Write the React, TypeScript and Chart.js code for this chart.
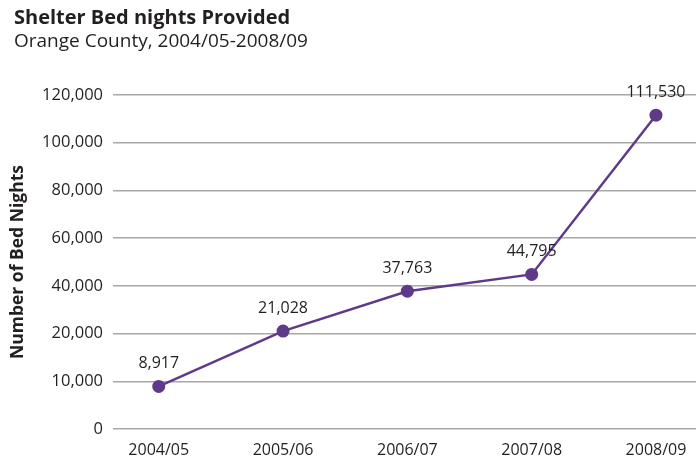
import React, { useEffect, useRef } from 'react';
import { Chart, LinearScale, registerables } from 'chart.js';

const categories = ['2004/05', '2005/06', '2006/07', '2007/08', '2008/09'];
const bedNights = [8917, 21028, 37763, 44795, 111530];
const yTickValues = [0, 10000, 20000, 40000, 60000, 80000, 100000, 120000];
const titleText = 'Shelter Bed nights Provided';
const subtitleText = 'Orange County, 2004/05-2008/09';
const yAxisTitle = 'Number of Bed Nights';

const TEXT = '#231f20';
const PURPLE = '#5f3a88';
const FONT = '"Open Sans", "Noto Sans", sans-serif';

// Y scale whose ticks are evenly spaced although their values are not
class SegmentScale extends LinearScale {
  static id = 'segment';
  static defaults = { ...(LinearScale as any).defaults };
  buildTicks() {
    return yTickValues.map((v) => ({ value: v }));
  }
  toDecimal(value: number) {
    const n = yTickValues.length - 1;
    let i = 0;
    while (i < n - 1 && value > yTickValues[i + 1]) i++;
    const frac = (value - yTickValues[i]) / (yTickValues[i + 1] - yTickValues[i]);
    return (i + frac) / n;
  }
  getPixelForValue(value: number) {
    return (this as any).getPixelForDecimal(this.toDecimal(value));
  }
  getValueForPixel(pixel: number) {
    const n = yTickValues.length - 1;
    const d = (this as any).getDecimalForPixel(pixel) * n;
    const i = Math.max(0, Math.min(n - 1, Math.floor(d)));
    return yTickValues[i] + (d - i) * (yTickValues[i + 1] - yTickValues[i]);
  }
}

Chart.register(...registerables, SegmentScale as any);

const valueLabels = {
  id: 'valueLabels',
  afterDatasetsDraw(chart: any) {
    const ctx = chart.ctx;
    const meta = chart.getDatasetMeta(0);
    ctx.save();
    ctx.font = `16px ${FONT}`;
    ctx.fillStyle = TEXT;
    ctx.textAlign = 'center';
    ctx.textBaseline = 'alphabetic';
    meta.data.forEach((pt: any, i: number) => {
      ctx.fillText(bedNights[i].toLocaleString('en-US'), pt.x, pt.y - 18);
    });
    ctx.restore();
  },
};

export default function App() {
  const canvasRef = useRef<HTMLCanvasElement>(null);

  useEffect(() => {
    document.body.style.margin = '0';
    const chart = new Chart(canvasRef.current as HTMLCanvasElement, {
      type: 'line',
      data: {
        datasets: [
          {
            data: bedNights.map((v, i) => ({ x: i, y: v })),
            borderColor: PURPLE,
            backgroundColor: PURPLE,
            borderWidth: 2.5,
            pointRadius: 6.5,
            pointBackgroundColor: PURPLE,
            pointBorderWidth: 0,
            tension: 0,
            clip: false as any,
          },
        ],
      },
      options: {
        animation: false,
        responsive: false,
        maintainAspectRatio: false,
        layout: { autoPadding: false, padding: { top: 95, bottom: 0, left: 0, right: 0 } },
        plugins: {
          legend: { display: false },
          tooltip: { enabled: false },
          title: { display: false },
        },
        scales: {
          x: {
            type: 'linear',
            min: -0.368,
            max: 4.322,
            afterBuildTicks: (axis: any) => {
              axis.ticks = categories.map((_, i) => ({ value: i }));
            },
            afterFit: (scale: any) => {
              scale.height = 32;
              scale.paddingLeft = 0;
              scale.paddingRight = 0;
            },
            ticks: {
              autoSkip: false,
              maxRotation: 0,
              padding: 12,
              color: TEXT,
              font: { family: FONT, size: 16 },
              callback: (v: any) => categories[v as number] ?? '',
            },
            grid: { display: false, drawTicks: false },
            border: { display: false },
          },
          y: {
            type: 'segment' as any,
            min: 0,
            max: 120000,
            afterFit: (scale: any) => {
              scale.width = 113;
              scale.paddingTop = 0;
              scale.paddingBottom = 0;
            },
            ticks: {
              padding: 10,
              color: TEXT,
              font: { family: FONT, size: 16.5 },
              callback: (v: any) => Number(v).toLocaleString('en-US'),
            },
            grid: { color: '#a8a8a8', lineWidth: 1.5, drawTicks: false },
            border: { display: false },
            title: {
              display: true,
              text: yAxisTitle,
              color: TEXT,
              font: { family: FONT, size: 17.5, weight: 'bold' },
              padding: { top: 8, bottom: 0 },
            },
          } as any,
        },
      },
      plugins: [valueLabels],
    });
    return () => chart.destroy();
  }, []);

  return (
    <div style={{ position: 'relative', width: 696, height: 461, background: '#fff' }}>
      <canvas ref={canvasRef} width={696} height={461} style={{ position: 'absolute', left: 0, top: 0 }} />
      <div
        style={{
          position: 'absolute', left: 14, top: 7, fontFamily: FONT, fontWeight: 700,
          fontSize: 20, lineHeight: '20px', color: TEXT, whiteSpace: 'nowrap',
        }}
      >
        {titleText}
      </div>
      <div
        style={{
          position: 'absolute', left: 14, top: 30.5, fontFamily: FONT, fontWeight: 400,
          fontSize: 19, lineHeight: '19px', color: TEXT, whiteSpace: 'nowrap',
        }}
      >
        {subtitleText}
      </div>
    </div>
  );
}
